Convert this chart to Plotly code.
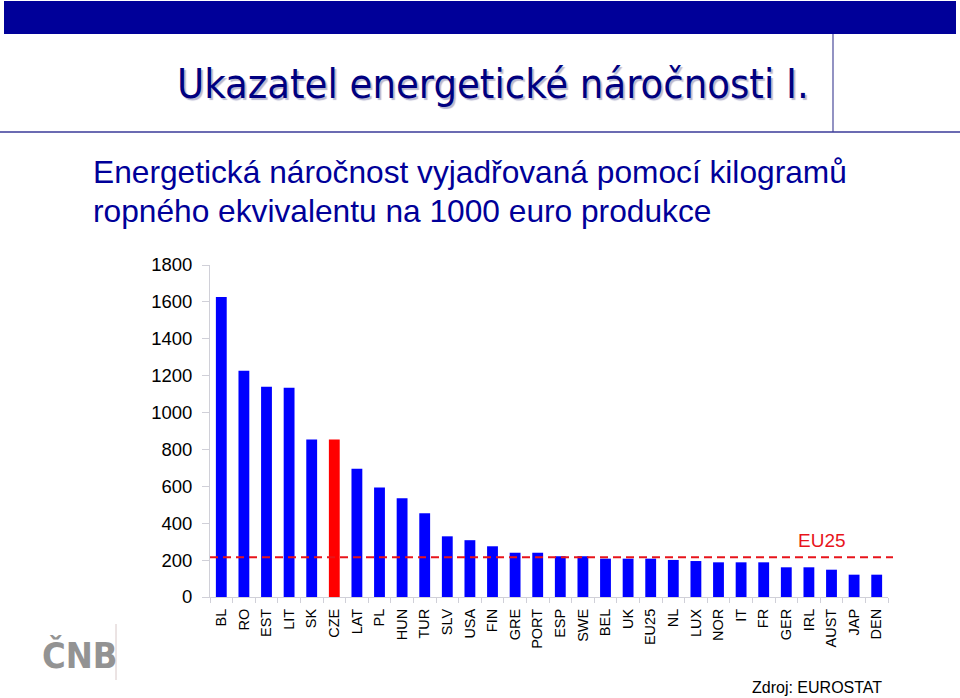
import plotly.graph_objects as go

categories = ["BL", "RO", "EST", "LIT", "SK", "CZE", "LAT", "PL", "HUN", "TUR",
              "SLV", "USA", "FIN", "GRE", "PORT", "ESP", "SWE", "BEL", "UK", "EU25",
              "NL", "LUX", "NOR", "IT", "FR", "GER", "IRL", "AUST", "JAP", "DEN"]
values = [1626, 1226, 1140, 1135, 854, 854, 695, 593, 535, 454,
          329, 308, 275, 240, 240, 221, 221, 208, 208, 208,
          201, 195, 188, 188, 188, 161, 161, 148, 121, 121]
highlight = "CZE"
eu25_level = 215
y_ticks = [0, 200, 400, 600, 800, 1000, 1200, 1400, 1600, 1800]

colors = ["#FF0000" if c == highlight else "#0000FF" for c in categories]

W, H = 960, 698
L, R, T, B = 210, 72, 265, 101
PW, PH = W - L - R, H - T - B


def px_x(x):
    return (x - L) / PW


def px_y(y):
    return (H - B - y) / PH


fig = go.Figure()
fig.add_trace(go.Bar(x=categories, y=values, marker=dict(color=colors, line=dict(width=0)),
                     hoverinfo="x+y"))

fig.update_layout(
    width=W, height=H,
    margin=dict(l=L, r=R, t=T, b=B),
    paper_bgcolor="white", plot_bgcolor="white",
    showlegend=False, bargap=0.52,
    font=dict(family="Liberation Sans, Arial, sans-serif", color="black"),
)
fig.update_yaxes(range=[0, 1800], tickvals=y_ticks, showgrid=False, zeroline=False,
                 showline=True, linecolor="#D0D0D8", linewidth=1,
                 ticks="outside", ticklen=7, tickcolor="#D0D0D8",
                 tickfont=dict(size=18.5, color="black"), ticklabelstandoff=6)
fig.update_xaxes(showgrid=False, showline=True, linecolor="#D0D0D8", linewidth=1,
                 ticks="outside", ticklen=5, tickcolor="#D0D0D8", tickson="boundaries",
                 tickangle=-90, tickfont=dict(size=14.5, color="black"), ticklabelstandoff=5)

# EU25 dashed reference line
fig.add_shape(type="line", xref="paper", yref="y", x0=0, x1=px_x(893), y0=eu25_level, y1=eu25_level,
              line=dict(color="#E8141B", width=2, dash="8px,5px"))
fig.add_annotation(xref="paper", yref="paper", x=px_x(822), y=px_y(540), text="EU25",
                   showarrow=False, xanchor="center", yanchor="middle",
                   font=dict(size=19, color="#E8141B"))

# Header decorations
fig.add_shape(type="rect", xref="paper", yref="paper", x0=px_x(4), x1=px_x(956),
              y0=px_y(34), y1=px_y(1), fillcolor="#000099", line=dict(width=0), layer="above")
fig.add_shape(type="line", xref="paper", yref="paper", x0=px_x(833), x1=px_x(833),
              y0=px_y(132), y1=px_y(34), line=dict(color="#4A4A9A", width=1.2))
fig.add_shape(type="line", xref="paper", yref="paper", x0=px_x(0), x1=px_x(960),
              y0=px_y(132), y1=px_y(132), line=dict(color="#3A3A99", width=1.5))

title = "Ukazatel energetické náročnosti I."
fig.add_annotation(xref="paper", yref="paper", x=px_x(175), y=px_y(84), text=title,
                   showarrow=False, xanchor="left", yanchor="middle",
                   font=dict(family="DejaVu Sans Condensed, DejaVu Sans", size=41.3,
                             color="#000080", shadow="2px 2px 1px #B8B8D0"))

fig.add_annotation(xref="paper", yref="paper", x=px_x(91), y=px_y(172),
                   text="Energetická náročnost vyjadřovaná pomocí kilogramů",
                   showarrow=False, xanchor="left", yanchor="middle",
                   font=dict(family="Liberation Sans, Arial", size=31.7, color="#000099"))
fig.add_annotation(xref="paper", yref="paper", x=px_x(91), y=px_y(211),
                   text="ropného ekvivalentu na 1000 euro produkce",
                   showarrow=False, xanchor="left", yanchor="middle",
                   font=dict(family="Liberation Sans, Arial", size=31.7, color="#000099"))

fig.add_annotation(xref="paper", yref="paper", x=px_x(884), y=px_y(687),
                   text="Zdroj: EUROSTAT", showarrow=False, xanchor="right", yanchor="middle",
                   font=dict(family="Liberation Sans, Arial", size=16, color="black"))

# CNB logo
fig.add_annotation(xref="paper", yref="paper", x=px_x(40), y=px_y(655),
                   text="<b>ČNB</b>", showarrow=False, xanchor="left", yanchor="middle",
                   font=dict(family="DejaVu Sans Condensed, DejaVu Sans", size=36,
                             color="#939393"))
fig.add_shape(type="line", xref="paper", yref="paper", x0=px_x(116), x1=px_x(116),
              y0=px_y(680), y1=px_y(624), line=dict(color="#D8C8C8", width=1))

fig.write_html("out.html", config={"displayModeBar": False},
               post_script="document.body.style.margin='0px';")
